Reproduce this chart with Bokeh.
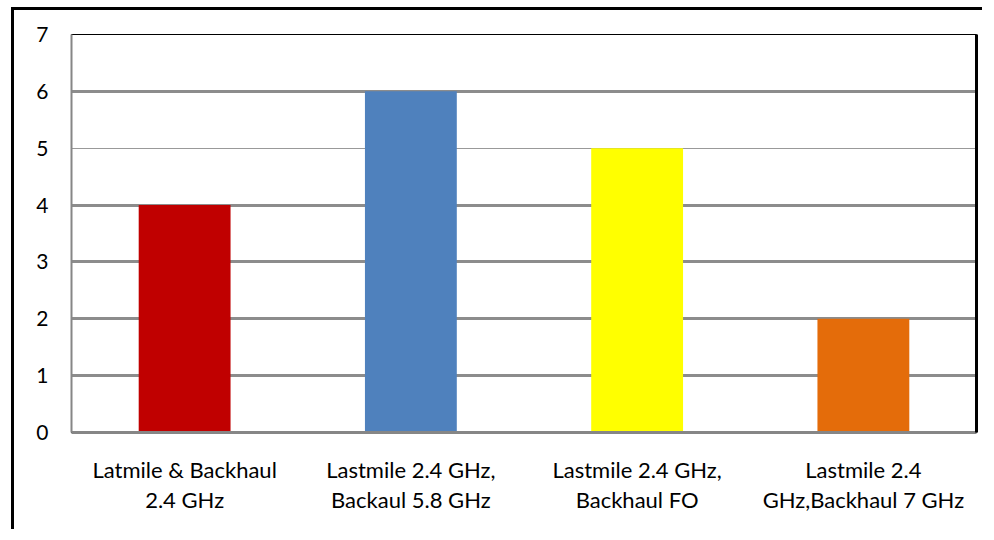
from bokeh.plotting import figure
from bokeh.models import FactorRange, Range1d, FixedTicker, LinearAxis, Grid, ColumnDataSource
from bokeh.embed import file_html
from bokeh.resources import INLINE

categories = ["Latmile & Backhaul\n2.4 GHz",
              "Lastmile 2.4 GHz,\nBackaul 5.8 GHz",
              "Lastmile 2.4 GHz,\nBackhaul FO",
              "Lastmile 2.4\nGHz,Backhaul 7 GHz"]
values = [4, 6, 5, 2]
colors = ["#C00000", "#4F81BD", "#FFFF00", "#E46C0A"]
y_ticks = [0, 1, 2, 3, 4, 5, 6, 7]

FONT = "Lato"

p = figure(x_range=FactorRange(*categories, range_padding=0),
           y_range=Range1d(0, 7),
           width=971, height=522,
           output_backend="svg", toolbar_location=None,
           min_border_left=57, min_border_top=24, min_border_right=9, min_border_bottom=100)
p.styles = {"border-top": "3px solid black", "border-left": "3px solid black",
            "margin-top": "7px", "margin-left": "11px"}

src = ColumnDataSource(dict(cat=categories, val=values, color=colors))
p.vbar(x="cat", top="val", width=0.406, fill_color="color", line_color=None, source=src)

p.xgrid.visible = False
p.ygrid.visible = False
g1 = Grid(dimension=1, ticker=FixedTicker(ticks=[1, 2, 3, 4, 6]),
          grid_line_color="#8c8c8c", grid_line_width=3, level="underlay")
g2 = Grid(dimension=1, ticker=FixedTicker(ticks=[5]),
          grid_line_color="#999999", grid_line_width=1, level="underlay")
p.add_layout(g1)
p.add_layout(g2)

p.outline_line_color = "black"
p.outline_line_width = 1

ya = p.yaxis[0]
ya.ticker = FixedTicker(ticks=y_ticks)
ya.axis_line_color = "#868686"
ya.axis_line_width = 2
ya.major_tick_line_color = None
ya.minor_tick_line_color = None
ya.major_label_text_font = FONT
ya.major_label_text_font_size = "21px"
ya.major_label_text_color = "black"
ya.major_label_standoff = 17

xa = p.xaxis[0]
xa.axis_line_color = "#868686"
xa.axis_line_width = 3
xa.major_tick_line_color = None
xa.minor_tick_line_color = None
xa.major_label_text_font = FONT
xa.major_label_text_font_size = "22px"
xa.major_label_text_color = "black"
xa.major_label_standoff = 17
xa.major_label_text_line_height = 1.14

ra = LinearAxis(ticker=FixedTicker(ticks=[]), axis_line_color="black", axis_line_width=3,
                major_tick_line_color=None, minor_tick_line_color=None,
                major_label_standoff=0)
p.add_layout(ra, "right")

open("out.html", "w").write(file_html(p, INLINE))
